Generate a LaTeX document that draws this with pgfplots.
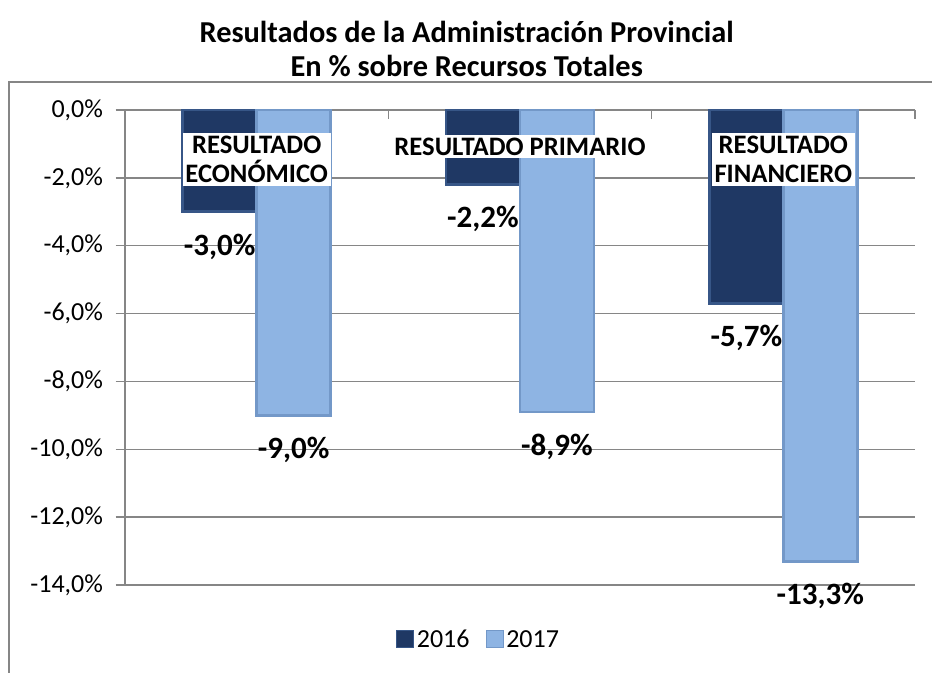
\documentclass[border=0pt]{standalone}
\usepackage{pgfplots}
\pgfplotsset{compat=1.18}
\usepackage{fontspec}
\setmainfont{Carlito}
\definecolor{dk}{RGB}{31,56,100}
\definecolor{dkedge}{RGB}{55,86,135}
\definecolor{lt}{RGB}{142,180,227}
\definecolor{ltedge}{RGB}{115,152,200}
\definecolor{gridgray}{RGB}{134,134,134}
\begin{document}
\begin{tikzpicture}
\path[use as bounding box] (0,0) rectangle (699pt,-504.75pt);
\draw[gridgray, line width=1.5pt] (6.75pt,-530pt) -- (6.75pt,-61.5pt) -- (730pt,-61.5pt);
\node[font=\bfseries\fontsize{22.8}{26}\selectfont] at (350pt,-24pt) {Resultados de la Administración Provincial};
\node[font=\bfseries\fontsize{22.8}{26}\selectfont] at (350pt,-49.5pt) {En \% sobre Recursos Totales};
\begin{axis}[
  at={(93.75pt,-82.5pt)}, anchor=north west,
  scale only axis, width=592.5pt, height=356.25pt,
  xmin=-0.5, xmax=2.5, ymin=-14, ymax=0,
  axis x line*=top, axis y line*=left,
  ybar=0pt, bar width=55.5pt,
  ytick={-14,-12,...,0},
  yticklabels={{-14,0\%},{-12,0\%},{-10,0\%},{-8,0\%},{-6,0\%},{-4,0\%},{-2,0\%},{0,0\%}},
  xtick={-0.5,0.5,1.5,2.5}, xticklabels={},
  ymajorgrids, major grid style={gridgray, line width=1.1pt},
  axis line style={gridgray, line width=1.1pt},
  tick style={gridgray, line width=1.1pt},
  tick align=inside, major tick length=7pt,
  ytick style={xshift=-7pt},
  yticklabel style={font=\fontsize{19.5}{20}\selectfont, xshift=-13pt},
  /pgf/number format/assume math mode=true,
  point meta=explicit symbolic,
  nodes near coords,
  every node near coord/.append style={font=\bfseries\fontsize{23.25}{24}\selectfont, anchor=center, yshift=-26pt, text=black},
  legend style={at={(0.448,-0.116)}, anchor=center, draw=none, legend columns=2,
    font=\fontsize{19.5}{20}\selectfont, /tikz/every even column/.append style={column sep=10pt}},
  legend image code/.code={\path[#1, line width=0.75pt] (0pt,-5.5pt) rectangle (12.75pt,7pt);},
]
\addplot[fill=dk, draw=dkedge, line width=2pt] coordinates {(0,-3.0) [-3,0\%] (1,-2.2) [-2,2\%] (2,-5.7) [-5,7\%]};
\addplot[fill=lt, draw=ltedge, line width=2pt] coordinates {(0,-9.0) [-9,0\%] (1,-8.9) [-8,9\%] (2,-13.3) [-13,3\%]};
\legend{2016,2017}
\node[fill=white, align=center, inner sep=2pt, font=\bfseries\fontsize{20}{22}\selectfont] at (axis cs:0,-1.46) {RESULTADO\\ECONÓMICO};
\node[fill=white, align=center, inner sep=2pt, font=\bfseries\fontsize{20}{22}\selectfont] at (axis cs:1,-1.09) {RESULTADO PRIMARIO};
\node[fill=white, align=center, inner sep=2pt, font=\bfseries\fontsize{20}{22}\selectfont] at (axis cs:2,-1.46) {RESULTADO\\FINANCIERO};
\end{axis}
\end{tikzpicture}
\end{document}
